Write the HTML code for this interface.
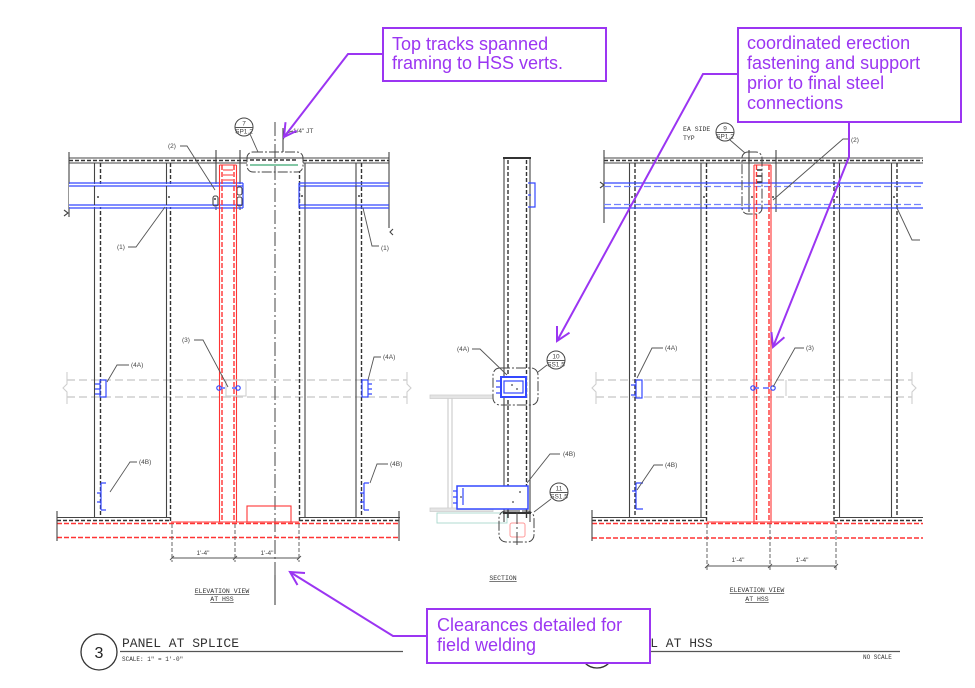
<!DOCTYPE html>
<html><head><meta charset="utf-8"><style>
html,body{margin:0;padding:0;background:#fff;}
svg{display:block;}
.k{stroke:#444;stroke-width:1.1;fill:none}
.kd{stroke:#333;stroke-width:1.4;stroke-dasharray:4 2;fill:none}
.b{stroke:#3448ff;stroke-width:1.2;fill:none}
.bd{stroke:#7282ff;stroke-width:1.2;stroke-dasharray:7 3;fill:none}
.r{stroke:#ff3434;stroke-width:1.1;fill:none}
.rd{stroke:#ff3434;stroke-width:1.4;stroke-dasharray:5 2;fill:none}
.g{stroke:#cfcfcf;stroke-width:1.4;stroke-dasharray:8 4;fill:none}
.gs{stroke:#cfcfcf;stroke-width:1.1;fill:none}
.cl{stroke:#444;stroke-width:1;stroke-dasharray:14 3 2 3;fill:none}
.ld{stroke:#555;stroke-width:0.9;fill:none}
.p{stroke:#9b35f2;stroke-width:2;fill:none}
.t{font-family:"Liberation Sans",sans-serif;font-size:6.5px;fill:#444}
.pt{font-family:"Liberation Sans",sans-serif;font-size:18px;fill:#9b35f2}
.m{font-family:"Liberation Mono",monospace;fill:#333}
</style></head><body>
<svg width="975" height="688" viewBox="0 0 975 688" xmlns="http://www.w3.org/2000/svg">
<rect width="975" height="688" fill="#fff"/>

<!-- ================= LEFT ELEVATION ================= -->
<line class="g" x1="67" y1="380" x2="407" y2="380"/>
<line class="g" x1="67" y1="397" x2="407" y2="397"/>
<path class="gs" d="M67 372 V384 L63 388 L67 392 V404 M407 372 V384 L411 388 L407 392 V404"/>
<line class="k" x1="69" y1="158" x2="389" y2="158"/>
<line class="kd" x1="69" y1="160.5" x2="389" y2="160.5"/>
<line class="k" x1="69" y1="163" x2="389" y2="163"/>
<line class="k" x1="69" y1="152" x2="69" y2="217" stroke-width="1.5"/>
<line class="k" x1="389" y1="152" x2="389" y2="228" stroke-width="1.5"/>
<line class="k" x1="94.5" y1="163" x2="94.5" y2="518"/>
<line class="kd" x1="100.5" y1="163" x2="100.5" y2="518"/>
<line class="k" x1="166.5" y1="163" x2="166.5" y2="518"/>
<line class="kd" x1="170.5" y1="163" x2="170.5" y2="522"/>
<line class="kd" x1="299.5" y1="163" x2="299.5" y2="522"/>
<line class="k" x1="305" y1="163" x2="305" y2="518"/>
<line class="k" x1="356" y1="163" x2="356" y2="518"/>
<line class="kd" x1="361.5" y1="163" x2="361.5" y2="518"/>
<line class="k" x1="216" y1="150" x2="216" y2="210"/>
<line class="k" x1="240" y1="150" x2="240" y2="210"/>
<rect x="69" y="184" width="174" height="23" fill="#fff"/>
<line class="b" x1="69" y1="183" x2="243" y2="183"/>
<line class="b" x1="69" y1="186" x2="243" y2="186"/>
<line class="b" x1="69" y1="205" x2="243" y2="205"/>
<line class="b" x1="69" y1="208" x2="243" y2="208"/>
<line class="b" x1="243" y1="183" x2="243" y2="208"/>
<line class="b" x1="299" y1="183" x2="389" y2="183"/>
<line class="b" x1="299" y1="186" x2="389" y2="186"/>
<line class="b" x1="299" y1="205" x2="389" y2="205"/>
<line class="b" x1="299" y1="208" x2="389" y2="208"/>
<line class="b" x1="299" y1="183" x2="299" y2="208"/>
<line class="k" x1="94.5" y1="186" x2="94.5" y2="205"/>
<line class="k" x1="166.5" y1="186" x2="166.5" y2="205"/>
<line class="k" x1="305" y1="186" x2="305" y2="205"/>
<line class="k" x1="356" y1="186" x2="356" y2="205"/>
<rect x="213" y="196" width="5" height="10" rx="2" class="k"/>
<rect x="237" y="187" width="5" height="8" rx="2" class="k"/>
<rect x="237" y="197" width="5" height="9" rx="2" class="k"/>
<path class="k" d="M64 210 L68 213 L64 216 M393 229 L390 232 L393 235"/>
<g fill="#444"><circle cx="98" cy="197" r="1"/><circle cx="169" cy="197" r="1"/><circle cx="302" cy="196" r="1"/><circle cx="359" cy="196" r="1"/><circle cx="215" cy="199" r="1"/></g>
<line class="r" x1="219.5" y1="165" x2="219.5" y2="522"/>
<line class="rd" x1="222" y1="165" x2="222" y2="522"/>
<line class="rd" x1="234" y1="165" x2="234" y2="522"/>
<line class="r" x1="236.5" y1="165" x2="236.5" y2="522"/>
<line class="r" x1="219.5" y1="165" x2="236.5" y2="165"/>
<path class="r" d="M223 170 H233 M223 175 H233 M223 180 H233" stroke-width="1.4"/>
<line class="cl" x1="275" y1="122" x2="275" y2="575"/>
<line class="k" x1="275" y1="575" x2="275" y2="605"/>
<rect x="247" y="152" width="56" height="20" rx="6" fill="#fff" stroke="#444" stroke-width="1" stroke-dasharray="10 2 2 2"/>
<line x1="250" y1="165" x2="298" y2="165" stroke="#3aa870" stroke-width="1.3"/>
<line class="kd" x1="250" y1="160" x2="298" y2="160"/>
<line class="k" x1="247" y1="158" x2="303" y2="158"/>
<line class="cl" x1="275" y1="122" x2="275" y2="172"/>
<line class="k" x1="283" y1="128" x2="283" y2="152"/>
<path class="ld" d="M283 140 Q286 132 293 131"/>
<circle cx="244" cy="127" r="9" fill="#fff" stroke="#444" stroke-width="1"/>
<line class="ld" x1="235" y1="127.5" x2="253" y2="127.5"/>
<text class="t" x="244" y="125.5" text-anchor="middle" font-size="5.5">7</text>
<text class="t" x="244" y="133.5" text-anchor="middle" font-size="5.5">SP1.2</text>
<line class="ld" x1="250" y1="134" x2="258" y2="152"/>
<text class="t" x="293" y="133">1/4" JT</text>
<line class="k" x1="57" y1="517.5" x2="171" y2="517.5"/>
<line class="kd" x1="57" y1="520.5" x2="171" y2="520.5"/>
<line class="k" x1="299" y1="517.5" x2="400" y2="517.5"/>
<line class="kd" x1="299" y1="520.5" x2="400" y2="520.5"/>
<line class="r" x1="171" y1="522" x2="299" y2="522"/>
<line class="rd" x1="57" y1="523.5" x2="400" y2="523.5"/>
<line class="rd" x1="57" y1="537.5" x2="400" y2="537.5"/>
<line class="k" x1="57" y1="511" x2="57" y2="541" stroke-width="1.5"/>
<line class="k" x1="399" y1="511" x2="399" y2="541" stroke-width="1.5"/>
<rect x="247" y="506" width="44" height="16" class="r"/>
<path class="ld" d="M172 524 V562 M235 524 V562 M299 524 V562" stroke-dasharray="4 2"/>
<line class="ld" x1="172" y1="558" x2="299" y2="558"/>
<path class="ld" d="M170 560 L174 556 M233 560 L237 556 M297 560 L301 556"/>
<text class="t" x="203" y="555" text-anchor="middle">1'-4"</text>
<text class="t" x="267" y="555" text-anchor="middle">1'-4"</text>
<g class="b" stroke-width="1.6">
<rect x="100" y="380" width="6" height="17"/>
<path d="M95 384 H100 M95 389 H100 M95 394 H100"/>
<rect x="362" y="380" width="6" height="17"/>
<path d="M368 384 H372 M368 389 H372 M368 394 H372"/>
<path d="M101 483 H106 M101 483 V510 M101 510 H106 M97 493 H101 M97 502 H101"/>
<path d="M364 483 H369 M364 483 V510 M364 510 H369 M360 493 H364 M360 502 H364"/>
<circle cx="219" cy="388" r="2.2"/><circle cx="238" cy="388" r="2.2"/>
<path d="M221 388 H225 M232 388 H236"/>
</g>
<rect x="226" y="380" width="20" height="16" class="gs"/>
<text class="t" x="168" y="148">(2)</text>
<path class="ld" d="M180 146 H187 L215 190"/>
<text class="t" x="117" y="249">(1)</text>
<path class="ld" d="M128 247 H136 L165 207"/>
<text class="t" x="381" y="250">(1)</text>
<path class="ld" d="M363 208 L372 246 H379"/>
<text class="t" x="182" y="342">(3)</text>
<path class="ld" d="M194 340 H203 L228 387"/>
<text class="t" x="131" y="367">(4A)</text>
<path class="ld" d="M129 365 H117 L107 382"/>
<text class="t" x="383" y="359">(4A)</text>
<path class="ld" d="M381 357 H374 L368 380"/>
<text class="t" x="139" y="464">(4B)</text>
<path class="ld" d="M137 462 H130 L110 492"/>
<text class="t" x="390" y="466">(4B)</text>
<path class="ld" d="M388 464 H377 L370 483"/>
<text class="m" x="222" y="593" font-size="6.5" text-anchor="middle" text-decoration="underline">ELEVATION VIEW</text>
<text class="m" x="222" y="601" font-size="6.5" text-anchor="middle" text-decoration="underline">AT HSS</text>

<!-- ================= SECTION ================= -->
<rect x="430" y="395" width="63" height="3.5" fill="#e4e4e4" stroke="#cfcfcf" stroke-width="0.8"/>
<rect x="430" y="508" width="63" height="3.5" fill="#e4e4e4" stroke="#cfcfcf" stroke-width="0.8"/>
<line x1="448" y1="398" x2="448" y2="508" stroke="#cfcfcf" stroke-width="1.2"/>
<line x1="452" y1="398" x2="452" y2="508" stroke="#cfcfcf" stroke-width="1.2"/>
<rect x="437" y="513" width="70" height="10" fill="none" stroke="#a8d8cc" stroke-width="0.9"/>
<line class="k" x1="504" y1="158" x2="504" y2="522"/>
<line class="k" x1="530" y1="158" x2="530" y2="522"/>
<line class="kd" x1="508" y1="160" x2="508" y2="520"/>
<line class="kd" x1="526.5" y1="160" x2="526.5" y2="520"/>
<line x1="503" y1="158" x2="531" y2="158" stroke="#333" stroke-width="2"/>
<path class="b" d="M528 183 H535 V207 H528 M528 195 H531" stroke-width="1.5"/>
<rect x="493" y="368" width="45" height="37" rx="7" fill="none" stroke="#444" stroke-width="1" stroke-dasharray="10 2 2 2"/>
<rect x="501" y="377" width="25" height="20" fill="#fff" stroke="#3448ff" stroke-width="2"/>
<rect x="504" y="381" width="19" height="12" class="b"/>
<path class="b" d="M496 381 H501 M496 387 H501 M496 393 H501"/>
<g fill="#444"><circle cx="512" cy="385" r="0.9"/><circle cx="517" cy="389" r="0.9"/></g>
<circle cx="556" cy="360" r="9" fill="#fff" stroke="#444" stroke-width="1"/>
<line class="ld" x1="547" y1="360.5" x2="565" y2="360.5"/>
<text class="t" x="556" y="358.5" text-anchor="middle" font-size="5.5">10</text>
<text class="t" x="556" y="366.5" text-anchor="middle" font-size="5.5">SS1.5</text>
<line class="ld" x1="547" y1="365" x2="538" y2="372"/>
<text class="t" x="457" y="351">(4A)</text>
<path class="ld" d="M472 349 H480 L507 375"/>
<rect x="457" y="486" width="71" height="23" fill="#fff" stroke="#3448ff" stroke-width="1.5"/>
<path class="b" d="M463 488 V505 M453 491 H457 M453 497 H457 M453 503 H457"/>
<g fill="#444"><circle cx="520" cy="492" r="0.9"/><circle cx="513" cy="502" r="0.9"/><circle cx="461" cy="497" r="0.9"/></g>
<text class="t" x="563" y="456">(4B)</text>
<path class="ld" d="M560 454 H550 L527 483"/>
<circle cx="559" cy="492" r="9" fill="#fff" stroke="#444" stroke-width="1"/>
<line class="ld" x1="550" y1="492.5" x2="568" y2="492.5"/>
<text class="t" x="559" y="490.5" text-anchor="middle" font-size="5.5">11</text>
<text class="t" x="559" y="498.5" text-anchor="middle" font-size="5.5">SS1.5</text>
<line class="ld" x1="551" y1="499" x2="534" y2="512"/>
<rect x="499" y="511" width="35" height="31" rx="7" fill="none" stroke="#444" stroke-width="1" stroke-dasharray="10 2 2 2"/>
<line x1="503" y1="513" x2="531" y2="513" stroke="#333" stroke-width="2"/>
<rect x="510" y="523" width="15" height="14" rx="2" fill="none" stroke="#ff9a9a" stroke-width="1"/>
<line class="cl" x1="517" y1="510" x2="517" y2="545"/>
<text class="m" x="503" y="580" font-size="6.5" text-anchor="middle" text-decoration="underline">SECTION</text>

<!-- ================= RIGHT ELEVATION ================= -->
<line class="g" x1="596" y1="380" x2="912" y2="380"/>
<line class="g" x1="596" y1="397" x2="912" y2="397"/>
<path class="gs" d="M596 372 V384 L592 388 L596 392 V404 M912 372 V384 L916 388 L912 392 V404"/>
<line class="k" x1="604" y1="158" x2="923" y2="158"/>
<line class="kd" x1="604" y1="160.5" x2="923" y2="160.5"/>
<line class="k" x1="604" y1="163" x2="923" y2="163"/>
<line class="k" x1="604" y1="150" x2="604" y2="223" stroke-width="1.5"/>
<path class="k" d="M600 182 L604 185 L600 188"/>
<line class="k" x1="629.5" y1="163" x2="629.5" y2="518"/>
<line class="kd" x1="635" y1="163" x2="635" y2="518"/>
<line class="k" x1="701" y1="163" x2="701" y2="518"/>
<line class="kd" x1="706.5" y1="163" x2="706.5" y2="522"/>
<line class="kd" x1="834" y1="163" x2="834" y2="522"/>
<line class="k" x1="839.5" y1="163" x2="839.5" y2="518"/>
<line class="k" x1="891.5" y1="163" x2="891.5" y2="518"/>
<line class="kd" x1="897" y1="163" x2="897" y2="518"/>
<line class="k" x1="749" y1="150" x2="749" y2="212"/>
<line class="k" x1="776" y1="150" x2="776" y2="212"/>
<line class="b" x1="604" y1="183" x2="923" y2="183"/>
<line class="bd" x1="604" y1="186.5" x2="923" y2="186.5"/>
<line class="bd" x1="604" y1="204.5" x2="923" y2="204.5"/>
<line class="b" x1="604" y1="208" x2="923" y2="208"/>
<g fill="#444"><circle cx="632" cy="197" r="1"/><circle cx="704" cy="197" r="1"/><circle cx="837" cy="197" r="1"/><circle cx="894" cy="197" r="1"/><circle cx="752" cy="197" r="1"/><circle cx="773" cy="197" r="1"/></g>
<line class="r" x1="754" y1="165" x2="754" y2="522"/>
<line class="rd" x1="756.5" y1="165" x2="756.5" y2="522"/>
<line class="rd" x1="769" y1="165" x2="769" y2="522"/>
<line class="r" x1="771" y1="165" x2="771" y2="522"/>
<line class="r" x1="754" y1="165" x2="771" y2="165"/>
<path d="M757 170 H762 M757 176 H762 M757 182 H762" stroke="#333" stroke-width="1.4"/>
<rect x="742" y="152" width="20" height="62" rx="6" fill="none" stroke="#444" stroke-width="1" stroke-dasharray="10 2 2 2"/>
<circle cx="725" cy="132" r="9" fill="#fff" stroke="#444" stroke-width="1"/>
<line class="ld" x1="716" y1="132.5" x2="734" y2="132.5"/>
<text class="t" x="725" y="130.5" text-anchor="middle" font-size="5.5">9</text>
<text class="t" x="725" y="138.5" text-anchor="middle" font-size="5.5">SP1.2</text>
<line class="ld" x1="730" y1="140" x2="745" y2="153"/>
<text class="m" x="683" y="131" font-size="6.5">EA SIDE</text>
<text class="m" x="683" y="140" font-size="6.5">TYP</text>
<text class="t" x="851" y="142">(2)</text>
<path class="ld" d="M849 139 H843 L773 200"/>
<path class="ld" d="M897 208 L912 240 H920"/>
<line class="k" x1="592" y1="517.5" x2="707" y2="517.5"/>
<line class="kd" x1="592" y1="520.5" x2="707" y2="520.5"/>
<line class="k" x1="834" y1="517.5" x2="923" y2="517.5"/>
<line class="kd" x1="834" y1="520.5" x2="923" y2="520.5"/>
<line class="r" x1="707" y1="522" x2="834" y2="522"/>
<line class="rd" x1="592" y1="523.5" x2="923" y2="523.5"/>
<line class="rd" x1="592" y1="538" x2="923" y2="538"/>
<line class="k" x1="592" y1="510" x2="592" y2="541" stroke-width="1.5"/>
<path class="ld" d="M707 524 V570 M770 524 V570 M836 524 V570" stroke-dasharray="4 2"/>
<line class="ld" x1="707" y1="566" x2="836" y2="566"/>
<path class="ld" d="M705 568 L709 564 M768 568 L772 564 M834 568 L838 564"/>
<text class="t" x="738" y="562" text-anchor="middle">1'-4"</text>
<text class="t" x="802" y="562" text-anchor="middle">1'-4"</text>
<g class="b" stroke-width="1.6">
<rect x="636" y="380" width="6" height="18"/>
<path d="M631 385 H636 M631 395 H636"/>
<path d="M636 483 H643 M636 483 V509 M636 509 H643 M632 491 H636"/>
<circle cx="753" cy="388" r="2.2"/><circle cx="773" cy="388" r="2.2"/>
<path d="M755 388 H759 M763 388 H769"/>
</g>
<line class="gs" x1="786" y1="380" x2="786" y2="396"/>
<text class="t" x="665" y="350">(4A)</text>
<path class="ld" d="M663 348 H652 L637 378"/>
<text class="t" x="665" y="467">(4B)</text>
<path class="ld" d="M663 465 H654 L637 490"/>
<text class="t" x="806" y="350">(3)</text>
<path class="ld" d="M804 348 H795 L773 387"/>
<text class="m" x="757" y="592" font-size="6.5" text-anchor="middle" text-decoration="underline">ELEVATION VIEW</text>
<text class="m" x="757" y="601" font-size="6.5" text-anchor="middle" text-decoration="underline">AT HSS</text>

<!-- ================= TITLES ================= -->
<circle cx="99" cy="652" r="18" fill="#fff" stroke="#333" stroke-width="1.3"/>
<text x="99" y="658" text-anchor="middle" font-family="Liberation Sans,sans-serif" font-size="16" fill="#222">3</text>
<text class="m" x="122" y="647" font-size="13">PANEL AT SPLICE</text>
<line x1="120" y1="651.5" x2="403" y2="651.5" stroke="#555" stroke-width="1.2"/>
<text class="m" x="122" y="661" font-size="6">SCALE:  1" = 1'-0"</text>
<circle cx="597" cy="651" r="17" fill="#fff" stroke="#333" stroke-width="1.3"/>
<text class="m" x="619" y="647" font-size="13">PANEL AT HSS</text>
<line x1="616" y1="651.5" x2="900" y2="651.5" stroke="#555" stroke-width="1.2"/>
<text class="m" x="863" y="659" font-size="6">NO SCALE</text>

<!-- ================= PURPLE CALLOUTS ================= -->
<polyline class="p" points="383,54 348,54 284,137"/>
<polyline class="p" points="296.7,130.8 284,137 285.5,122.2"/>
<rect x="383" y="28" width="223" height="53" fill="#fff" stroke="#9b35f2" stroke-width="2"/>
<text class="pt" x="392" y="50">Top tracks spanned</text>
<text class="pt" x="392" y="69">framing to HSS verts.</text>

<polyline class="p" points="738,74 703,74 557,341"/>
<polyline class="p" points="569.5,332.7 557,341 557,326"/>
<polyline class="p" points="849,122 849,157 773,347"/>
<polyline class="p" points="784.4,337.3 773,347 771.4,332.1"/>
<rect x="738" y="28" width="223" height="94" fill="#fff" stroke="#9b35f2" stroke-width="2"/>
<text class="pt" x="747" y="49">coordinated erection</text>
<text class="pt" x="747" y="69">fastening and support</text>
<text class="pt" x="747" y="89">prior to final steel</text>
<text class="pt" x="747" y="109">connections</text>

<polyline class="p" points="427,636 393,636 290,572"/>
<polyline class="p" points="297.5,585 290,572 305,573"/>
<rect x="427" y="609" width="223" height="54" fill="#fff" stroke="#9b35f2" stroke-width="2"/>
<text class="pt" x="437" y="631">Clearances detailed for</text>
<text class="pt" x="437" y="651">field welding</text>
</svg>
</body></html>
